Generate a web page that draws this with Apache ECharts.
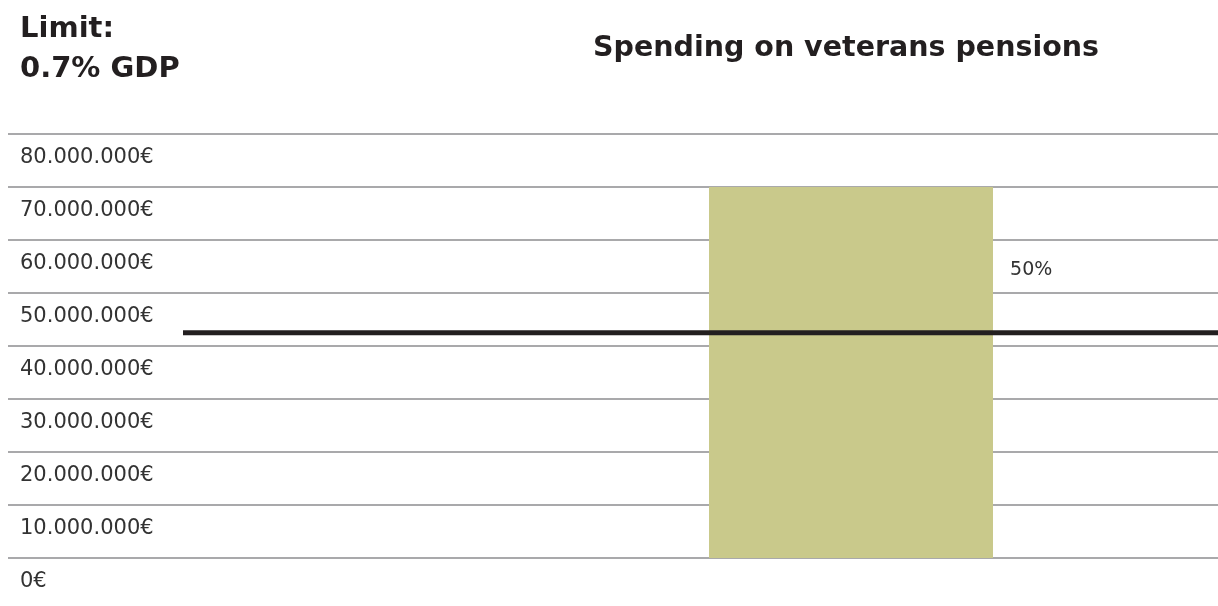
<!DOCTYPE html>
<html>
<head>
<meta charset="utf-8">
<title>Spending on veterans pensions</title>
<script src="https://cdn.jsdelivr.net/npm/echarts@6/dist/echarts.min.js"></script>
<style>
  html, body { margin: 0; padding: 0; background: #ffffff; }
  #chart { width: 1218px; height: 606px; }
</style>
</head>
<body>
<div id="chart"></div>
<script>
// Data
const categories = ['Veterans pensions'];
const spending = [70000000];          // spending on veterans pensions (€)
const limitValue = 42500000;          // 0.7% GDP limit (€)
const shareLabel = '50%';
const yTicks = { min: 0, max: 80000000, interval: 10000000 };
const titleText = 'Spending on veterans pensions';
const limitText = 'Limit:\n0.7% GDP';

const fmtEuro = v => String(v).replace(/\B(?=(\d{3})+(?!\d))/g, '.') + '€';

const TEXT = '#231f20';
const GRID_TOP = 134, GRID_H = 424;

const chart = echarts.init(document.getElementById('chart'), null, { renderer: 'canvas' });

chart.setOption({
  backgroundColor: '#ffffff',
  animation: false,
  title: [
    {
      text: limitText, left: 20, top: 9, padding: 0,
      textStyle: { fontFamily: 'DejaVu Sans', fontWeight: 'bold', fontSize: 29, lineHeight: 40, color: TEXT }
    },
    {
      text: titleText, left: 846, top: 34, padding: 0, textAlign: 'center',
      textStyle: { fontFamily: 'DejaVu Sans', fontWeight: 'bold', fontSize: 28.5, color: TEXT }
    }
  ],
  grid: [
    { left: 8, right: 0, top: GRID_TOP, height: GRID_H },      // gridlines + axis labels
    { left: 709, width: 284, top: GRID_TOP, height: GRID_H },  // bar
    { left: 183, right: 0, top: GRID_TOP, height: GRID_H }     // limit line
  ],
  xAxis: [
    { gridIndex: 0, type: 'category', data: [''], show: false },
    { gridIndex: 1, type: 'category', data: categories, show: false },
    { gridIndex: 2, type: 'category', data: ['', ''], boundaryGap: false, show: false }
  ],
  yAxis: [
    {
      gridIndex: 0, type: 'value', min: yTicks.min, max: yTicks.max, interval: yTicks.interval,
      axisLine: { show: false }, axisTick: { show: false },
      splitLine: { show: true, lineStyle: { color: '#a9a9ab', width: 2 } },
      axisLabel: {
        inside: true, margin: 12, verticalAlign: 'top', padding: [13, 0, 0, 0],
        fontFamily: 'DejaVu Sans', fontSize: 21, color: '#333333',
        formatter: fmtEuro
      }
    },
    { gridIndex: 1, type: 'value', min: yTicks.min, max: yTicks.max, show: false },
    { gridIndex: 2, type: 'value', min: yTicks.min, max: yTicks.max, show: false }
  ],
  series: [
    {
      type: 'bar', xAxisIndex: 1, yAxisIndex: 1, data: spending, barWidth: '100%',
      itemStyle: { color: '#c9c98b' },
      label: {
        show: true, position: ['106%', '22.3%'], verticalAlign: 'middle', align: 'left',
        formatter: () => shareLabel,
        fontFamily: 'DejaVu Sans', fontSize: 19, color: '#333333'
      },
      z: 2
    },
    {
      type: 'line', xAxisIndex: 2, yAxisIndex: 2,
      data: [limitValue, limitValue], showSymbol: false, symbol: 'none',
      lineStyle: { color: TEXT, width: 5 },
      z: 5
    }
  ]
});
</script>
</body>
</html>
